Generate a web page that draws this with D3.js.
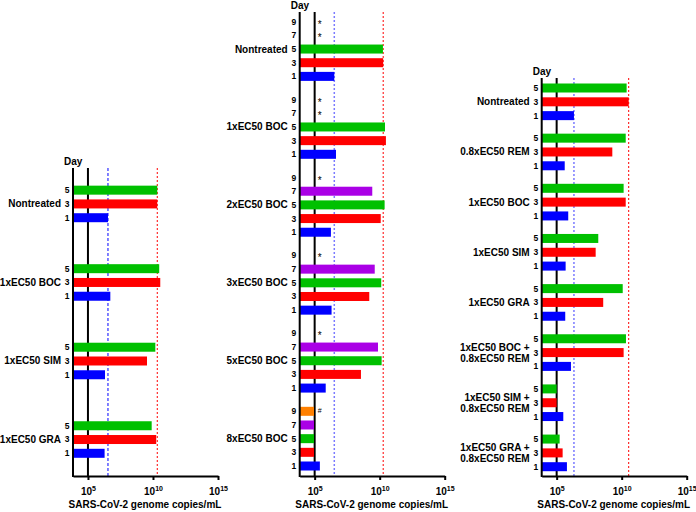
<!DOCTYPE html>
<html>
<head>
<meta charset="utf-8">
<script src="https://cdn.jsdelivr.net/npm/d3@7"></script>
<style>
  body { margin: 0; background: #fff; }
  text { font-family: "Liberation Sans", Arial, sans-serif; font-weight: bold; fill: #000; }
</style>
</head>
<body>
<div id="chart"></div>
<script>
// day order inside one group (top to bottom)
const dayOrder = [9, 7, 5, 3, 1];
const dayColors = { 9: '#ff8000', 7: '#aa00e6', 5: '#00c000', 3: '#ff0000', 1: '#0000ff' };

// values are log10(genome copies/mL); null = no bar (asterisk)
const leftGroups = ['Nontreated', '1xEC50 BOC', '1xEC50 SIM', '1xEC50 GRA'];
const leftDays = [5, 3, 1];
const leftValues = [
  [10.33, 10.33, 6.54],
  [10.48, 10.56, 6.72],
  [10.18, 9.54, 6.31],
  [9.9, 10.25, 6.28]
];

const midGroups = ['Nontreated', '1xEC50 BOC', '2xEC50 BOC', '3xEC50 BOC', '5xEC50 BOC', '8xEC50 BOC'];
const midDays = [9, 7, 5, 3, 1];
const midValues = [
  [null, null, 10.25, 10.27, 6.51],
  [null, null, 10.41, 10.48, 6.64],
  [null, 9.43, 10.38, 10.08, 6.25],
  [null, 9.62, 10.12, 9.2, 6.3],
  [null, 9.87, 10.15, 8.56, 5.85],
  [4.95, 4.95, 4.95, 4.95, 5.4]
];
const midMarks = [
  ['*', '*', '', '', ''],
  ['*', '*', '', '', ''],
  ['*', '', '', '', ''],
  ['*', '', '', '', ''],
  ['*', '', '', '', ''],
  ['#', '', '', '', '']
];

const rightGroups = ['Nontreated', '0.8xEC50 REM', '1xEC50 BOC', '1xEC50 SIM', '1xEC50 GRA',
  '1xEC50 BOC +|0.8xEC50 REM', '1xEC50 SIM +|0.8xEC50 REM', '1xEC50 GRA +|0.8xEC50 REM'];
const rightDays = [5, 3, 1];
const rightValues = [
  [10.38, 10.54, 6.33],
  [10.31, 9.28, 5.62],
  [10.15, 10.31, 5.89],
  [8.2, 8.0, 5.69],
  [10.08, 8.58, 5.66],
  [10.33, 10.15, 6.1],
  [5.0, 5.0, 5.51],
  [5.23, 5.46, 5.79]
];

const xTicks = [1e5, 1e10, 1e15];

const W = 696, H = 512, axisY = 476;

const svg = d3.select('#chart').append('svg')
  .attr('width', W).attr('height', H);

function drawPanel(p) {
  const g = svg.append('g');
  const x = d3.scaleLog().domain([Math.pow(10, 3.85), 1e15]).range([p.axisX, p.axisX + 145]);
  const y = d3.scaleLinear().domain([0, p.lastSlot]).range([p.firstY, p.lastY]);
  const slot = (gi, day) => gi * p.groupStep + p.slotDays.indexOf(day);
  const barH = 9;

  // reference lines: detection limit, nontreated day 1 and day 3 means
  const nt = p.values[0];
  const ntDay1 = Math.pow(10, nt[p.days.indexOf(1)]);
  const ntDay3 = Math.pow(10, nt[p.days.indexOf(3)]);
  g.append('line').attr('x1', x(1e5)).attr('x2', x(1e5))
    .attr('y1', p.top).attr('y2', axisY)
    .attr('stroke', '#000').attr('stroke-width', 2);
  g.append('line').attr('x1', x(ntDay1)).attr('x2', x(ntDay1))
    .attr('y1', p.top).attr('y2', axisY)
    .attr('stroke', p.blueStroke).attr('stroke-width', p.blueWidth)
    .attr('stroke-dasharray', p.blueDash);
  g.append('line').attr('x1', x(ntDay3)).attr('x2', x(ntDay3))
    .attr('y1', p.top).attr('y2', axisY)
    .attr('stroke', '#ff0000').attr('stroke-width', 1)
    .attr('stroke-dasharray', '2,2');

  // bars
  const rows = [];
  p.groups.forEach((name, gi) => {
    p.days.forEach((day, di) => {
      rows.push({ gi: gi, day: day, v: p.values[gi][di], mark: p.marks ? p.marks[gi][di] : '' });
    });
  });

  g.selectAll('rect.bar').data(rows.filter(d => d.v !== null)).enter()
    .append('rect')
    .attr('class', 'bar')
    .attr('x', p.axisX)
    .attr('y', d => y(slot(d.gi, d.day)) - barH / 2)
    .attr('width', d => x(Math.pow(10, d.v)) - p.axisX)
    .attr('height', barH)
    .attr('fill', d => dayColors[d.day]);

  // day numbers
  g.selectAll('text.day').data(rows).enter()
    .append('text')
    .attr('class', 'day')
    .attr('x', p.axisX - 3.5)
    .attr('y', d => y(slot(d.gi, d.day)))
    .attr('dy', '0.35em')
    .attr('text-anchor', 'end')
    .style('font-size', '8.5px')
    .text(d => d.day);

  // asterisks / hash marks
  g.selectAll('text.mark').data(rows.filter(d => d.mark)).enter()
    .append('text')
    .attr('class', 'mark')
    .attr('x', x(1e5) + 3)
    .attr('y', d => y(slot(d.gi, d.day)))
    .attr('dy', d => d.mark === '*' ? '0.6em' : '0.3em')
    .style('font-size', d => d.mark === '*' ? '10px' : '7px')
    .style('font-weight', 'normal')
    .text(d => d.mark);

  // group labels
  p.groups.forEach((name, gi) => {
    const lines = name.split('|');
    const cy = y(slot(gi, p.labelDay));
    const t = g.append('text')
      .attr('text-anchor', 'end')
      .style('font-size', '10px');
    lines.forEach((ln, li) => {
      t.append('tspan')
        .attr('x', p.axisX - 12)
        .attr('y', cy + (li - (lines.length - 1) / 2) * 11)
        .attr('dy', '0.35em')
        .text(ln);
    });
  });

  // "Day"
  g.append('text')
    .attr('x', p.axisX - 9)
    .attr('y', p.top - 3)
    .style('font-size', '10px')
    .text('Day');

  // y axis line
  g.append('line').attr('x1', p.axisX).attr('x2', p.axisX)
    .attr('y1', p.top).attr('y2', axisY + 1)
    .attr('stroke', '#000').attr('stroke-width', 2);

  // x axis
  const xAxis = d3.axisBottom(x).tickValues(xTicks).tickSize(4).tickSizeOuter(0).tickFormat('');
  const ax = g.append('g')
    .attr('transform', 'translate(0,' + axisY + ')')
    .call(xAxis);
  ax.select('.domain').attr('stroke-width', 2);
  ax.selectAll('.tick line').attr('stroke-width', 2);
  ax.selectAll('.tick').append('text')
    .attr('y', 19)
    .attr('text-anchor', 'middle')
    .style('font-size', '10px')
    .each(function(d) {
      const t = d3.select(this);
      t.append('tspan').text('10');
      t.append('tspan').attr('dy', '-4').style('font-size', '7px').text(Math.round(Math.log10(d)));
    });

  g.append('text')
    .attr('x', p.axisX + 72)
    .attr('y', 508)
    .attr('text-anchor', 'middle')
    .style('font-size', '10px')
    .text('SARS-CoV-2 genome copies/mL');
}

drawPanel({
  groups: leftGroups, days: leftDays, values: leftValues,
  axisX: 73, top: 168, slotDays: dayOrder, groupStep: 5.7,
  firstY: 162.6, lastSlot: 21.1, lastY: 453.3, labelDay: 3,
  blueStroke: '#0000ff', blueWidth: 1, blueDash: '3,2'
});
drawPanel({
  groups: midGroups, days: midDays, values: midValues, marks: midMarks,
  axisX: 299.7, top: 12, slotDays: dayOrder, groupStep: 5.7,
  firstY: 21.7, lastSlot: 32.5, lastY: 466, labelDay: 5,
  blueStroke: '#7b7bff', blueWidth: 1.5, blueDash: '2,2'
});
drawPanel({
  groups: rightGroups, days: rightDays, values: rightValues,
  axisX: 541.7, top: 78, slotDays: rightDays, groupStep: 3.63,
  firstY: 88, lastSlot: 27.41, lastY: 466.7, labelDay: 3,
  blueStroke: '#7b7bff', blueWidth: 1.5, blueDash: '2,2'
});
</script>
</body>
</html>
